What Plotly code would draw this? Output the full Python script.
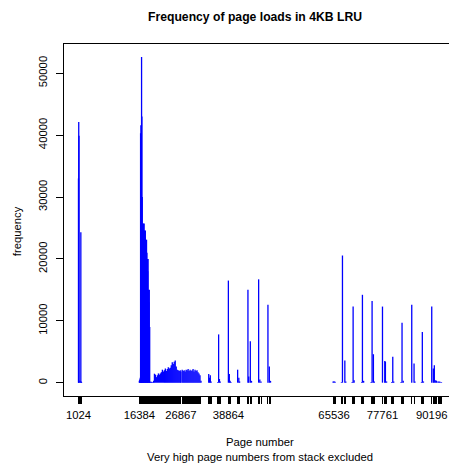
import plotly.graph_objects as go

# Page numbers and how often each page was loaded (4KB pages, LRU)
low_pages = [1024, 1090, 1150, 1400, 1620, 1700, 1800]
low_freq = [33000, 42100, 39900, 300, 24300, 200, 100]

heap_pages = [16384, 16500, 16620, 16700, 16780, 16870, 16950, 17030, 17120, 17200,
              17300, 17400, 17500, 17600, 17700, 17800, 17900, 18000, 18100, 18200,
              18300, 18400, 18500, 18600, 18700, 18800, 18900, 19000, 19100, 19300,
              19500, 19800, 20000]
heap_freq = [300, 500, 800, 40300, 41600, 40000, 52600, 43000, 30000, 25700,
             25000, 25700, 24000, 25700, 24600, 23500, 24600, 23100, 22000, 23100,
             21000, 20000, 18000, 20000, 15000, 13000, 15000, 9000, 200, 100,
             150, 100, 300]

band_pages = [20200, 20450, 20700, 20950, 21200, 21450, 21700, 21950, 22200, 22450,
              22700, 22950, 23200, 23450, 23700, 23950, 24200, 24450, 24700, 24950,
              25200, 25450, 25700, 25950, 26200, 26450, 26700, 26867, 27200, 27450,
              27700, 27950, 28200, 28450, 28700, 28950, 29200, 29450, 29700, 29950,
              30200, 30450, 30700, 30950, 31200, 31450, 31700, 31950]
band_freq = [1450, 1300, 900, 1200, 1500, 1300, 1500, 1700, 2100, 1800,
             2000, 2300, 1900, 2200, 2500, 2300, 2400, 2800, 3300, 3000,
             3400, 3600, 2600, 2100, 2000, 1900, 2000, 1800, 2100, 1900,
             2000, 1800, 2100, 2000, 2200, 1900, 2100, 1900, 2000, 2200,
             1800, 2100, 1900, 2000, 1700, 1500, 1200, 300]

mid_pages = [33900, 34100, 34300, 34500,
             36150, 36400, 36600, 36800,
             38864, 39100, 39300, 39500,
             41200, 41500, 41700,
             43800, 44000, 44400, 44700,
             46500, 46800, 47100,
             48850, 49200, 49500]
mid_freq = [1400, 800, 1200, 200,
            100, 7800, 600, 200,
            16500, 1400, 300, 100,
            2100, 800, 200,
            15000, 1000, 6700, 300,
            16700, 500, 200,
            12600, 2600, 300]

high_pages = [65300, 65536, 65800,
              67400, 67660, 68260, 68500,
              70100, 70350, 70600,
              72500, 72700, 73000,
              74900, 75140, 75470, 75700,
              77761, 78340, 78500, 78800,
              80100, 80360, 80600,
              82450, 82700, 83000,
              85150, 85730, 85950,
              87600, 87820, 88100,
              90196, 90600, 90850, 91200, 91400, 91780, 92050, 92300, 92650]
high_freq = [200, 250, 150,
             100, 20550, 3600, 200,
             100, 12300, 400,
             100, 14200, 300,
             100, 13200, 4600, 200,
             12300, 3500, 3400, 200,
             100, 4200, 200,
             100, 9700, 300,
             12600, 3100, 200,
             100, 8200, 200,
             12300, 2300, 2800, 400, 300, 200, 200, 150, 100]

labelled_pages = [1024, 16384, 26867, 38864, 65536, 77761, 90196]
y_ticks = [0, 10000, 20000, 30000, 40000, 50000]

pages = low_pages + heap_pages + band_pages + mid_pages + high_pages
freq = low_freq + heap_freq + band_freq + mid_freq + high_freq

# histogram-style vertical lines from zero up to each count
xs, ys = [], []
for p, f in zip(pages, freq):
    xs += [p, p, None]
    ys += [0, f, None]

fig = go.Figure()
fig.add_trace(go.Scatter(x=xs, y=ys, mode="lines",
                         line=dict(color="#0000FF", width=1.3),
                         hoverinfo="skip", showlegend=False))

tick_text = [str(p) if p in labelled_pages else "" for p in pages]
font = dict(family="Liberation Sans, Arial, sans-serif", size=11.3, color="black")

fig.update_layout(
    width=449, height=468,
    margin=dict(l=63.5, r=0, t=44, b=72, pad=0),
    paper_bgcolor="white", plot_bgcolor="white",
    font=font,
    xaxis=dict(range=[-2631, 94553], tickmode="array", tickvals=pages,
               ticktext=tick_text, ticks="outside", ticklen=7, tickwidth=1,
               tickcolor="black", showline=True, linecolor="black", linewidth=1,
               mirror=True, showgrid=False, zeroline=False, tickangle=0,
               tickfont=font, ticklabelstandoff=1),
    yaxis=dict(range=[-2150, 54720], tickmode="array", tickvals=y_ticks,
               ticktext=[str(v) for v in y_ticks], ticks="outside", ticklen=7,
               tickwidth=1, tickcolor="black", showline=True, linecolor="black",
               linewidth=1, mirror=False, showgrid=False, zeroline=False,
               tickangle=-90, tickfont=font, ticklabelstandoff=4),
)

W, H = 449, 468
anns = [
    dict(text="<b>Frequency of page loads in 4KB LRU</b>", x=254.5, y=17, size=12.2, angle=0),
    dict(text="Page number", x=259.5, y=442.3, size=11.3, angle=0),
    dict(text="Very high page numbers from stack excluded", x=259.5, y=456.7, size=11.3, angle=0),
    dict(text="frequency", x=16.7, y=231, size=11.3, angle=-90),
]
for a in anns:
    fig.add_annotation(text=a["text"], xref="paper", yref="paper",
                       x=(a["x"] - 63.5) / (W - 63.5),
                       y=1 - (a["y"] - 44) / (H - 44 - 72),
                       xanchor="center", yanchor="middle", showarrow=False,
                       textangle=a["angle"],
                       font=dict(family="Liberation Sans, Arial, sans-serif",
                                 size=a["size"], color="black"))

fig.write_html("out.html")
